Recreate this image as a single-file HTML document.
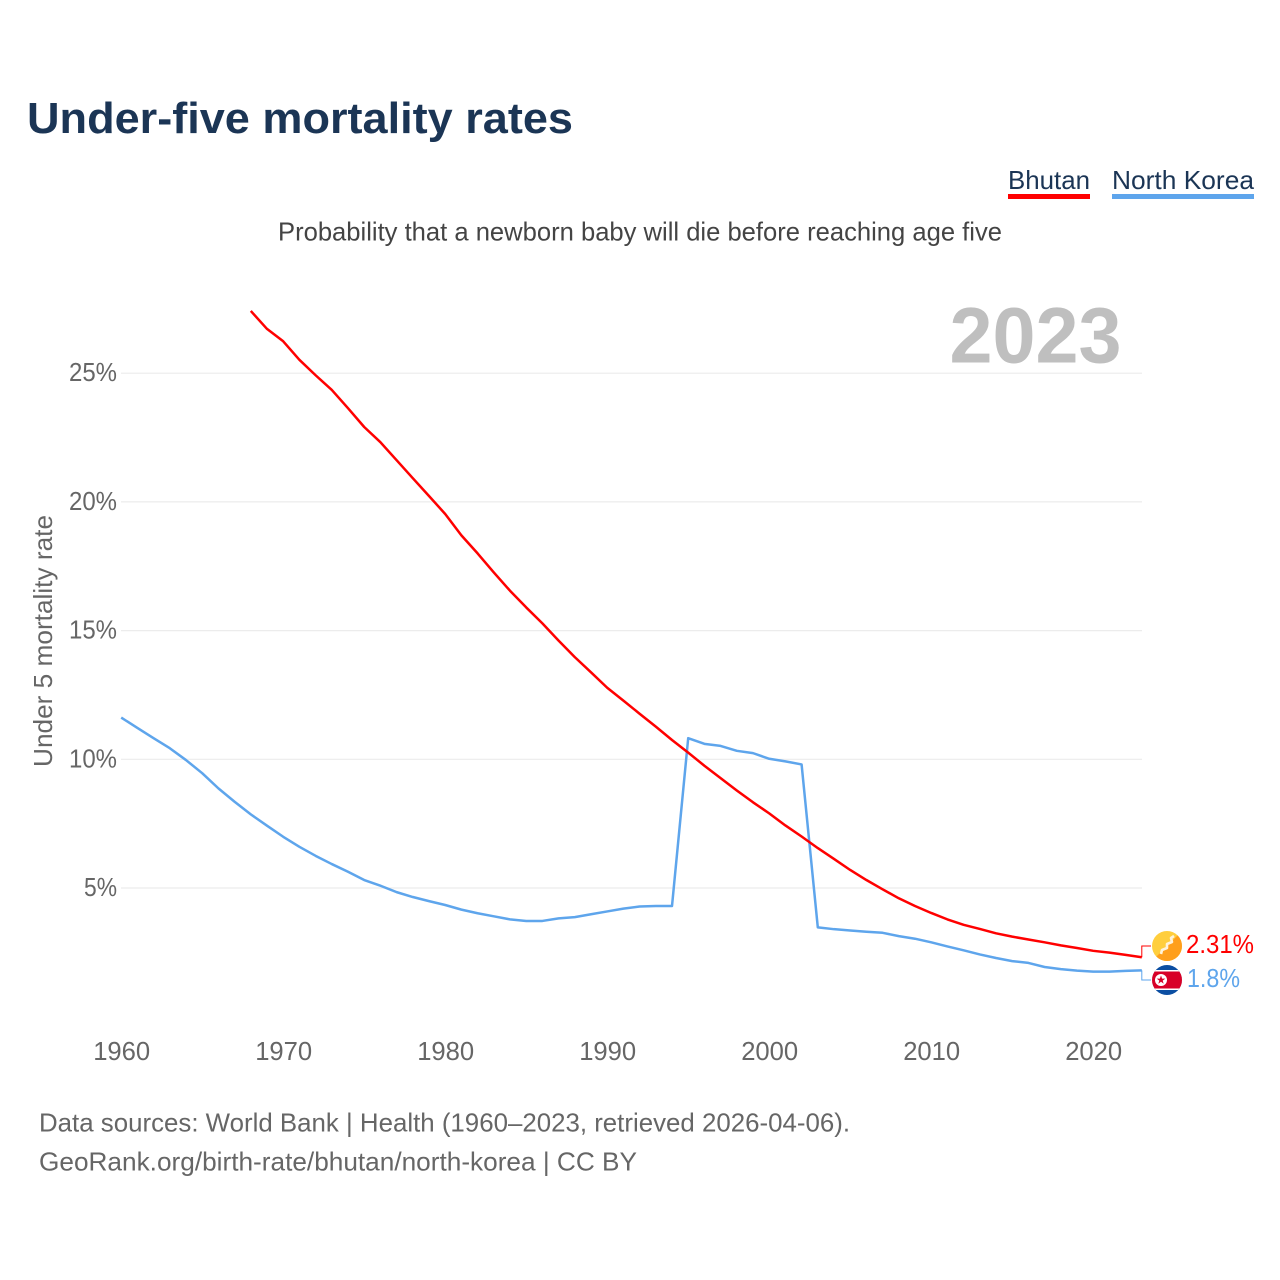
<!DOCTYPE html>
<html lang="en">
<head>
<meta charset="utf-8">
<title>Under-five mortality rates</title>
<style>
html,body{margin:0;padding:0;background:#fff;width:1280px;height:1280px;overflow:hidden}
svg{display:block;font-family:"Liberation Sans",sans-serif}
</style>
</head>
<body>
<svg id="chart" width="1280" height="1280" viewBox="0 0 1280 1280" xmlns="http://www.w3.org/2000/svg">
  <rect width="1280" height="1280" fill="#fff"/>
  <text x="27" y="133" font-size="44" font-weight="700" fill="#1b3555" textLength="546" lengthAdjust="spacingAndGlyphs">Under-five mortality rates</text>
  <g>
    <text x="1008" y="189" font-size="26" fill="#1b3555" textLength="82" lengthAdjust="spacingAndGlyphs">Bhutan</text>
    <rect x="1008" y="194" width="82" height="5" fill="#ff0000"/>
  </g>
  <g>
    <text x="1112" y="189" font-size="26" fill="#1b3555" textLength="142" lengthAdjust="spacingAndGlyphs">North Korea</text>
    <rect x="1112" y="194" width="142" height="5" fill="#5ea5ec"/>
  </g>
  <text x="278" y="240.5" font-size="26" fill="#444" textLength="724" lengthAdjust="spacingAndGlyphs">Probability that a newborn baby will die before reaching age five</text>
  <text x="949.5" y="362.5" font-size="79" font-weight="700" fill="#bfbfbf" textLength="172" lengthAdjust="spacingAndGlyphs">2023</text>
  <g id="grid"></g>
  <g id="yticks"></g>
  <g id="xticks"></g>
  <text transform="translate(52,641) rotate(-90)" text-anchor="middle" font-size="26" fill="#666" textLength="252" lengthAdjust="spacingAndGlyphs">Under 5 mortality rate</text>
  <g id="series"></g>
  <g>
    <clipPath id="clip-bt"><circle cx="1167" cy="946" r="15"/></clipPath>
    <g clip-path="url(#clip-bt)">
      <rect x="1152" y="931" width="30" height="30" fill="#ffce3d"/>
      <polygon points="1182,931 1182,961 1152,961" fill="#ff9f1c"/>
      <path d="M1174 936 L1171 938 L1172 942 L1167 944 L1167 948 L1162 950 L1161 954" fill="none" stroke="#fff3dc" stroke-width="2.6" stroke-linejoin="round"/>
    </g>
  </g>
  <g>
    <clipPath id="clip-kp"><circle cx="1167" cy="980" r="15"/></clipPath>
    <g clip-path="url(#clip-kp)">
      <rect x="1152" y="965" width="30" height="30" fill="#0b4ea2"/>
      <rect x="1152" y="970" width="30" height="20" fill="#fff"/>
      <rect x="1152" y="971.5" width="30" height="17" fill="#d80027"/>
      <circle cx="1161" cy="980" r="6" fill="#fff"/>
      <polygon points="1161,975.5 1162.1,978.6 1165.3,978.6 1162.7,980.6 1163.7,983.7 1161,981.8 1158.3,983.7 1159.3,980.6 1156.7,978.6 1159.9,978.6" fill="#d80027"/>
    </g>
  </g>
  <text id="label-bt" x="1186" y="953" font-size="26" fill="#ff0000" textLength="68" lengthAdjust="spacingAndGlyphs"></text>
  <text id="label-kp" x="1187" y="987" font-size="26" fill="#5ea5ec" textLength="53" lengthAdjust="spacingAndGlyphs"></text>
  <text x="39" y="1131.5" font-size="26" fill="#666" textLength="811" lengthAdjust="spacingAndGlyphs">Data sources: World Bank | Health (1960–2023, retrieved 2026-04-06).</text>
  <text x="39" y="1170.5" font-size="26" fill="#666" textLength="598" lengthAdjust="spacingAndGlyphs">GeoRank.org/birth-rate/bhutan/north-korea | CC BY</text>
</svg>
<script>
const xTickYears = [1960, 1970, 1980, 1990, 2000, 2010, 2020];
const yTickValues = [5, 10, 15, 20, 25];
const yearStart = 1960;
const bhutanStartYear = 1968;
const northKoreaValues = [11.62, 11.22, 10.82, 10.43, 9.97, 9.46, 8.87, 8.35, 7.86, 7.42, 6.99, 6.6, 6.25, 5.93, 5.63, 5.31, 5.09, 4.84, 4.65, 4.49, 4.34, 4.16, 4.02, 3.9, 3.78, 3.72, 3.72, 3.82, 3.87, 3.98, 4.09, 4.2, 4.28, 4.3, 4.3, 10.82, 10.6, 10.52, 10.33, 10.24, 10.02, 9.92, 9.8, 3.47, 3.4, 3.35, 3.3, 3.26, 3.13, 3.03, 2.89, 2.73, 2.58, 2.42, 2.28, 2.16, 2.09, 1.93, 1.85, 1.79, 1.75, 1.75, 1.78, 1.8];
const bhutanValues = [27.42, 26.72, 26.24, 25.52, 24.92, 24.35, 23.64, 22.91, 22.32, 21.62, 20.92, 20.23, 19.53, 18.7, 18.0, 17.26, 16.55, 15.9, 15.28, 14.61, 13.97, 13.38, 12.78, 12.28, 11.77, 11.27, 10.75, 10.26, 9.75, 9.27, 8.79, 8.33, 7.9, 7.43, 7.0, 6.55, 6.13, 5.7, 5.31, 4.95, 4.6, 4.3, 4.03, 3.78, 3.57, 3.41, 3.24, 3.11, 3.0, 2.89, 2.77, 2.67, 2.56, 2.49, 2.4, 2.31];

const SVG_NS = 'http://www.w3.org/2000/svg';
const xScale = year => 121.2 + (year - 1960) * 16.2;
const yScale = value => 1016.7 - value * 25.74;

function make(tag, attrs, parent, text) {
  const el = document.createElementNS(SVG_NS, tag);
  Object.keys(attrs).forEach(k => el.setAttribute(k, attrs[k]));
  if (text !== undefined) el.textContent = text;
  parent.appendChild(el);
  return el;
}

const gridGroup = document.getElementById('grid');
const yTickGroup = document.getElementById('yticks');
const xTickGroup = document.getElementById('xticks');
const seriesGroup = document.getElementById('series');

yTickValues.forEach(v => {
  const line = make('line', {x1: 121, x2: 1142, y1: yScale(v), y2: yScale(v), stroke: '#ececec', 'stroke-width': 1.2}, gridGroup);
  
  
  const label = make('text', {x: 117, y: yScale(v) + 8, 'text-anchor': 'end', 'font-size': 26, fill: '#666', textLength: v < 10 ? 33 : 48, lengthAdjust: 'spacingAndGlyphs'}, yTickGroup, v + '%');
  
  
});

xTickYears.forEach(y => {
  const label = make('text', {x: xScale(y) + 0.5, y: 1060, 'text-anchor': 'middle', 'font-size': 26, fill: '#666', textLength: 57, lengthAdjust: 'spacingAndGlyphs'}, xTickGroup, String(y));
  
  
});

function linePoints(values, startYear) {
  return values.map((v, i) => xScale(startYear + i).toFixed(2) + ',' + yScale(v).toFixed(2)).join(' ');
}

const nkLine = make('polyline', {points: linePoints(northKoreaValues, yearStart), fill: 'none', stroke: '#5ea5ec', 'stroke-width': 2.5, 'stroke-linejoin': 'round'}, seriesGroup);



const btLine = make('polyline', {points: linePoints(bhutanValues, bhutanStartYear), fill: 'none', stroke: '#ff0000', 'stroke-width': 2.5, 'stroke-linejoin': 'round'}, seriesGroup);



const lastBt = bhutanValues[bhutanValues.length - 1];
const lastNk = northKoreaValues[northKoreaValues.length - 1];
const endX = xScale(2023);

const btConnector = make('polyline', {points: endX + ',' + yScale(lastBt) + ' ' + endX + ',946 1151,946', fill: 'none', stroke: '#ff0000', 'stroke-width': 1}, seriesGroup);



const nkConnector = make('polyline', {points: endX + ',' + yScale(lastNk) + ' ' + endX + ',980 1151,980', fill: 'none', stroke: '#5ea5ec', 'stroke-width': 1}, seriesGroup);



document.getElementById('label-bt').textContent = lastBt + '%';
document.getElementById('label-kp').textContent = lastNk + '%';
</script>
</body>
</html>
